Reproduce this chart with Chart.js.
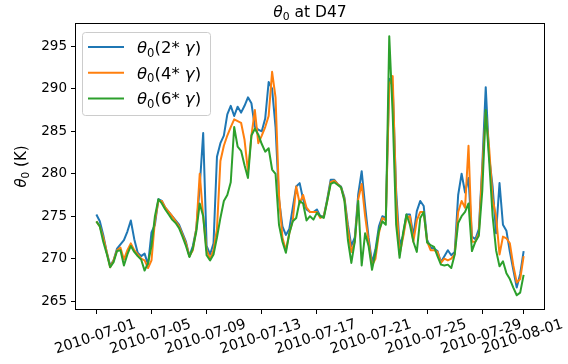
<!DOCTYPE html>
<html>
<head>
<meta charset="utf-8">
<script src="https://cdn.jsdelivr.net/npm/chart.js@4.4.0/dist/chart.umd.min.js"></script>
<style>
  body { margin: 0; background: #fff; }
  canvas { display: block; }
</style>
</head>
<body>
<canvas id="grafico" width="568" height="364"></canvas>
<script>
// 6-hourly samples starting 2010-07-01 00:00
const startDate = '2010-07-01';
const stepDays = 0.25;

const theta2 = [
    275.2, 274.4, 272.8, 270.8, 269.2, 269.8, 271.2, 271.7, 272.2, 273.2,
    274.5, 272.3, 270.7, 270.3, 270.6, 269.3, 273.1, 274.0, 277.0, 276.8,
    276.0, 275.5, 275.0, 274.5, 274.0, 273.0, 272.0, 270.3, 271.5, 273.5,
    278.5, 284.8, 271.5, 270.5, 271.8, 282.0, 283.6, 284.5, 287.0, 288.0,
    286.8, 287.9, 287.2, 288.0, 289.0, 288.3, 285.5, 285.2, 285.0, 286.5,
    290.8, 290.0, 285.5, 277.0, 273.8, 272.8, 273.5, 276.0, 278.5, 278.9,
    277.0, 275.8, 275.5, 275.5, 275.8, 275.0, 275.0, 277.0, 279.3, 279.3,
    278.8, 278.5, 277.2, 274.0, 271.5, 272.5, 277.6, 280.3, 276.2, 272.5,
    269.5, 271.1, 273.8, 275.0, 274.8, 291.2, 290.4, 278.0, 271.6, 272.7,
    275.2, 275.2, 272.7, 275.6, 276.8, 276.2, 272.2, 271.3, 271.2, 270.9,
    269.6, 270.3, 271.0, 270.4, 270.8, 277.5, 280.0, 277.8, 279.5, 272.6,
    272.3, 273.5, 281.0, 290.2, 282.0, 278.5, 273.0, 278.9, 274.0, 273.3,
    270.8, 268.7, 266.6, 268.2, 270.9
];

const theta4 = [
    274.4, 273.8, 272.5, 270.8, 269.0, 269.8, 271.0, 271.3, 269.9, 271.0,
    271.8, 271.0, 270.5, 270.0, 269.8, 268.9, 269.8, 274.5, 276.8, 276.8,
    276.0, 275.5, 275.0, 274.4, 273.8, 272.8, 271.8, 270.3, 271.0, 273.5,
    280.0, 275.0, 271.0, 270.0, 271.0, 273.5, 281.5, 283.3, 284.5, 285.5,
    286.4, 286.2, 286.0, 284.0, 280.3, 284.5, 287.5, 283.6, 284.5, 285.5,
    286.8, 292.0, 289.0, 277.5, 272.5, 271.0, 273.0, 274.5, 278.5, 276.5,
    277.5, 276.0, 275.5, 275.5, 275.5, 274.8, 275.0, 276.8, 279.0, 279.2,
    278.8, 278.4, 277.0, 273.5, 270.8, 272.0, 277.0, 278.8, 275.0, 272.0,
    269.2, 270.0, 273.0, 274.8, 274.5, 290.5, 291.5, 277.0, 270.5, 272.5,
    274.8, 275.0, 272.0, 274.5, 275.5, 275.5, 272.0, 271.0, 271.0, 270.8,
    269.5, 270.0, 269.8, 270.0, 270.5, 275.5, 276.8, 276.0, 283.3, 272.0,
    272.0, 273.0, 280.5, 287.2, 283.0, 277.0, 275.0, 270.5, 272.6, 272.4,
    271.8, 269.2, 267.2, 267.6, 270.3
];

const theta6 = [
    274.4, 273.8, 272.0, 270.6, 269.0, 269.6, 270.9, 271.0, 269.2, 270.5,
    271.5, 270.8, 270.3, 269.9, 268.6, 269.5, 271.5, 275.0, 277.0, 276.5,
    275.8, 275.2, 274.6, 274.2, 273.6, 272.6, 271.5, 270.2, 271.2, 273.2,
    276.5, 275.0, 270.4, 269.8, 270.5, 272.5, 274.8, 276.8, 277.5, 279.0,
    285.5, 283.2, 282.7, 281.0, 279.5, 284.5, 285.3, 284.6, 283.5, 282.6,
    283.0, 280.5, 280.0, 274.0, 272.0, 270.7, 273.0, 274.4, 274.8, 276.8,
    276.5, 274.5, 275.0, 274.6, 275.4, 275.0, 274.8, 276.8, 278.8, 279.0,
    278.7, 278.4, 276.8, 272.2, 269.5, 272.0, 276.8, 269.2, 273.0, 271.5,
    268.7, 270.7, 273.3, 274.4, 274.0, 296.2, 287.0, 274.0, 270.1, 273.0,
    275.2, 274.0, 272.0, 270.8, 274.8, 275.5, 271.9, 271.6, 271.4, 270.3,
    269.3, 269.2, 269.3, 268.9, 270.5, 274.2, 275.0, 275.5, 276.5, 270.9,
    272.0, 272.7, 278.0, 287.5, 281.5, 275.0, 271.0, 269.1, 269.7, 268.3,
    267.6, 266.6, 265.7, 266.0, 268.1
];

const tickDays = [0, 4, 8, 12, 16, 20, 24, 28, 31];
const tickLabels = ['2010-07-01', '2010-07-05', '2010-07-09', '2010-07-13', '2010-07-17',
    '2010-07-21', '2010-07-25', '2010-07-29', '2010-08-01'];
const yTicks = [265, 270, 275, 280, 285, 290, 295];

const FONT = '"DejaVu Sans", sans-serif';

function toPoints(values) {
    return values.map((v, i) => ({ x: i * stepDays, y: v }));
}

function fontFor(part, size) {
    const s = part.sub ? size * 0.7 : size;
    return (part.it ? 'italic ' : '') + s + 'px ' + FONT;
}

// draws text with subscripts, aligned left or center on x
function drawRich(ctx, parts, size, x, y, align) {
    let total = 0;
    const widths = parts.map(p => {
        ctx.font = fontFor(p, size);
        const w = ctx.measureText(p.t).width;
        total += w;
        return w;
    });
    let cx = align === 'center' ? x - total / 2 : x;
    ctx.textAlign = 'left';
    ctx.textBaseline = 'alphabetic';
    parts.forEach((p, i) => {
        ctx.font = fontFor(p, size);
        ctx.fillText(p.t, cx, y + (p.sub ? size * 0.22 : 0));
        cx += widths[i];
    });
}

const series = [
    { label: '2', data: theta2, color: '#1f77b4', order: 2 },
    { label: '4', data: theta4, color: '#ff7f0e', order: 1 },
    { label: '6', data: theta6, color: '#2ca02c', order: 0 }
];

const decoracoes = {
    id: 'decoracoes',
    afterDraw(chart) {
        const ctx = chart.ctx;
        const area = chart.chartArea;
        const xs = chart.scales.x;
        ctx.save();

        // moldura
        ctx.strokeStyle = '#000';
        ctx.lineWidth = 1;
        ctx.strokeRect(area.left + 0.5, area.top + 0.5, area.right - area.left - 1, area.bottom - area.top - 1);

        ctx.fillStyle = '#000';

        // titulo
        drawRich(ctx, [{ t: 'θ', it: true }, { t: '0', sub: true }, { t: ' at D47' }],
            15.5, (area.left + area.right) / 2, 17, 'center');

        // rotulo do eixo y
        ctx.save();
        ctx.translate(26, (area.top + area.bottom) / 2);
        ctx.rotate(-Math.PI / 2);
        drawRich(ctx, [{ t: 'θ', it: true }, { t: '0', sub: true }, { t: ' (K)' }], 15, 0, 0, 'center');
        ctx.restore();

        // rotulos do eixo x, girados
        const ang = 18 * Math.PI / 180;
        ctx.font = '14.5px ' + FONT;
        ctx.textAlign = 'center';
        ctx.textBaseline = 'middle';
        tickDays.forEach((d, i) => {
            const px = xs.getPixelForValue(d);
            ctx.save();
            ctx.translate(px - 1, 337);
            ctx.rotate(-ang);
            ctx.fillText(tickLabels[i], 0, 0);
            ctx.restore();
        });

        // legenda
        const lx = 82.5, ly = 32.5, lw = 128, lh = 83;
        ctx.beginPath();
        ctx.roundRect(lx, ly, lw, lh, 3);
        ctx.fillStyle = 'rgba(255,255,255,0.8)';
        ctx.fill();
        ctx.strokeStyle = '#cccccc';
        ctx.lineWidth = 1;
        ctx.stroke();
        series.forEach((s, i) => {
            const ry = 47 + i * 25.7;
            ctx.strokeStyle = s.color;
            ctx.lineWidth = 2;
            ctx.beginPath();
            ctx.moveTo(88, ry);
            ctx.lineTo(124, ry);
            ctx.stroke();
            ctx.fillStyle = '#000';
            drawRich(ctx, [
                { t: 'θ', it: true }, { t: '0', sub: true },
                { t: '(' + s.label + '* ' }, { t: 'γ', it: true }, { t: ')' }
            ], 16.5, 137, ry + 6, 'left');
        });

        ctx.restore();
    }
};

new Chart(document.getElementById('grafico').getContext('2d'), {
    type: 'line',
    data: {
        datasets: series.map(s => ({
            label: 'θ0(' + s.label + '*γ)',
            data: toPoints(s.data),
            borderColor: s.color,
            backgroundColor: s.color,
            borderWidth: 2,
            pointRadius: 0,
            tension: 0,
            borderJoinStyle: 'round',
            order: s.order
        }))
    },
    options: {
        responsive: false,
        animation: false,
        devicePixelRatio: 1,
        layout: { padding: { top: 23, right: 23, bottom: 0, left: 0 } },
        plugins: {
            legend: { display: false },
            tooltip: { enabled: false },
            title: { display: false }
        },
        scales: {
            x: {
                type: 'linear',
                min: -1.55,
                max: 32.55,
                afterBuildTicks: scale => { scale.ticks = tickDays.map(v => ({ value: v })); },
                afterFit: scale => { scale.height = 54; },
                ticks: { display: false },
                grid: { drawOnChartArea: false, drawTicks: true, tickLength: 4, color: '#000' },
                border: { display: false }
            },
            y: {
                min: 263.96,
                max: 297.75,
                afterBuildTicks: scale => { scale.ticks = yTicks.map(v => ({ value: v })); },
                afterFit: scale => { scale.width = 75; },
                ticks: {
                    color: '#000',
                    font: { family: FONT, size: 13.5 },
                    padding: 4
                },
                grid: { drawOnChartArea: false, drawTicks: true, tickLength: 4, color: '#000' },
                border: { display: false }
            }
        }
    },
    plugins: [decoracoes]
});
</script>
</body>
</html>
